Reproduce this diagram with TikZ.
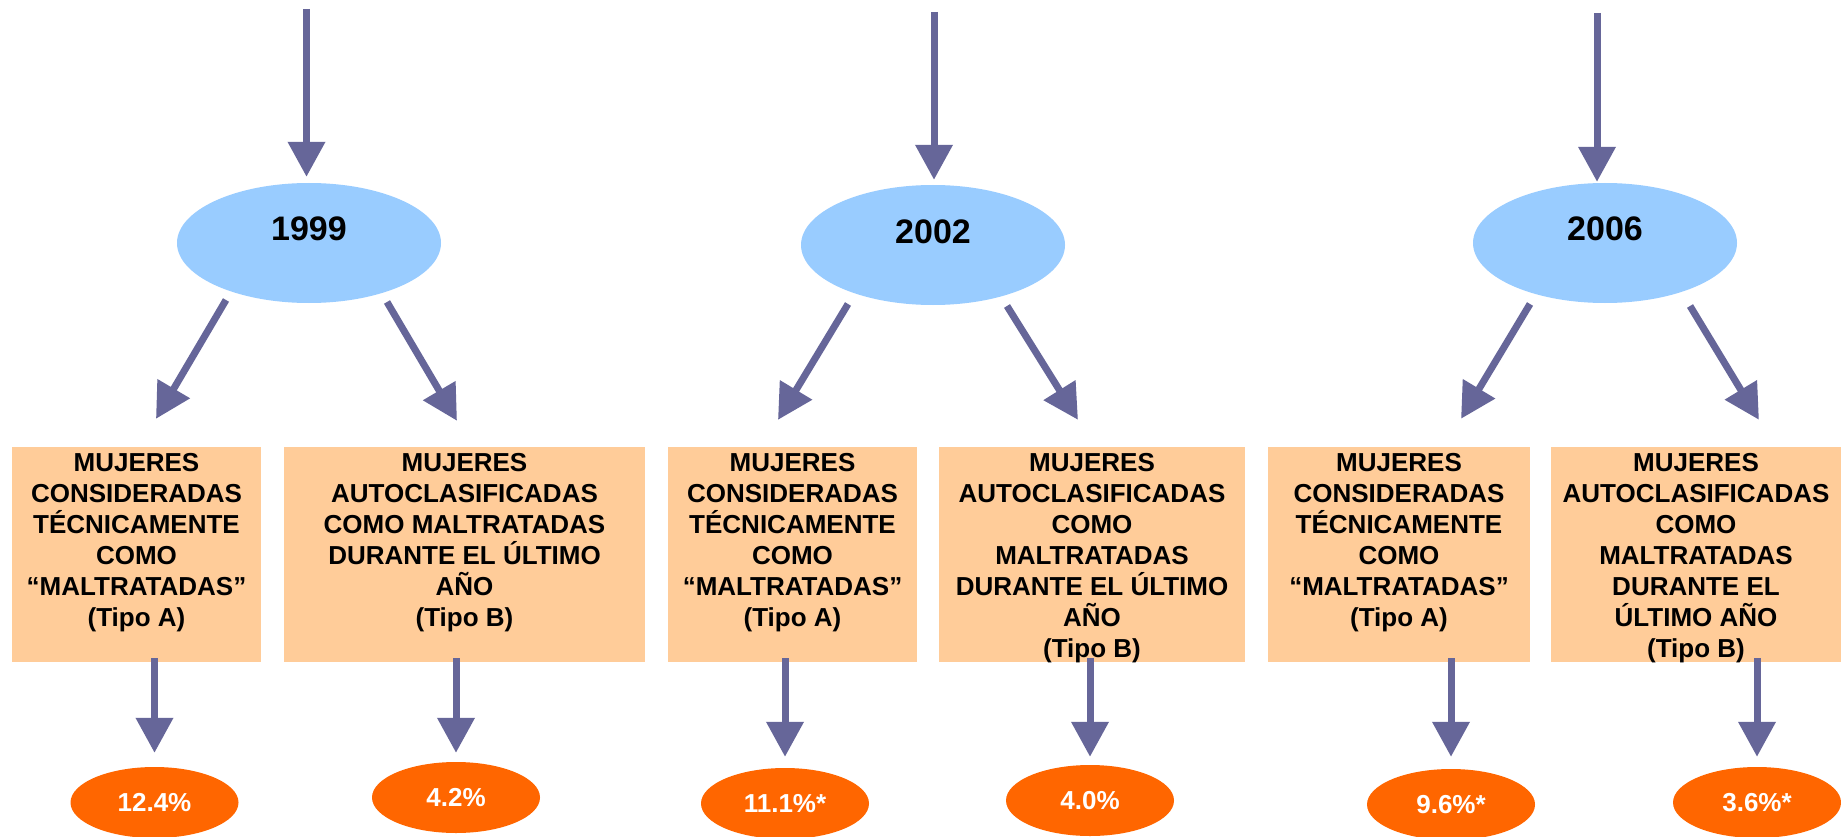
\documentclass[tikz,border=0pt]{standalone}
\usepackage{fontspec}
\setmainfont{Liberation Sans}
\usetikzlibrary{arrows.meta,shapes.geometric,calc}
\definecolor{arrowc}{HTML}{666699}
\definecolor{yearc}{HTML}{99CCFF}
\definecolor{boxc}{HTML}{FFCC99}
\definecolor{ovalc}{HTML}{FF6600}
\begin{document}
\begin{tikzpicture}[x=1pt,y=-1pt,
  arr/.style={draw=arrowc, line width=7pt, -{Triangle[length=35pt,width=36pt]}},
  yearnode/.style={ellipse, fill=yearc, minimum width=264pt, minimum height=120pt, inner sep=0pt},
  yeartext/.style={font=\bfseries\fontsize{34}{40}\selectfont, inner sep=0pt},
  boxnode/.style={fill=boxc, inner sep=0pt, minimum height=215pt},
  boxtext/.style={font=\bfseries\fontsize{26}{31}\selectfont, align=center, inner sep=0pt, anchor=north},
  ovalnode/.style={ellipse, fill=ovalc, minimum width=168pt, minimum height=71pt, inner sep=0pt, text=white, font=\bfseries\fontsize{26}{31}\selectfont}
]
\path[use as bounding box, fill=white] (0,0) rectangle (1841,837);

% year ellipses
\node[yearnode] (e1) at (309,243) {};
\node[yearnode] (e2) at (933,245) {};
\node[yearnode] (e3) at (1605,243) {};
\node[yeartext] (y1) at ([yshift=14pt]e1.center) {1999};
\node[yeartext] (y2) at ([yshift=13pt]e2.center) {2002};
\node[yeartext] (y3) at ([yshift=14pt]e3.center) {2006};

% boxes
\node[boxnode, minimum width=249pt] (bA) at (136.5,554.5) {};
\node[boxnode, minimum width=361pt] (bB) at (464.5,554.5) {};
\node[boxnode, minimum width=249pt] (bC) at (792.5,554.5) {};
\node[boxnode, minimum width=306pt] (bD) at (1092,554.5) {};
\node[boxnode, minimum width=262pt] (bE) at (1399,554.5) {};
\node[boxnode, minimum width=290pt] (bF) at (1696,554.5) {};

\node[boxtext] (tA) at ([yshift=-6pt]bA.north) {MUJERES\\CONSIDERADAS\\TÉCNICAMENTE\\COMO\\“MALTRATADAS”\\(Tipo A)};
\node[boxtext] (tB) at ([yshift=-6pt]bB.north) {MUJERES\\AUTOCLASIFICADAS\\COMO MALTRATADAS\\DURANTE EL ÚLTIMO\\AÑO\\(Tipo B)};
\node[boxtext] (tC) at ([yshift=-6pt]bC.north) {MUJERES\\CONSIDERADAS\\TÉCNICAMENTE\\COMO\\“MALTRATADAS”\\(Tipo A)};
\node[boxtext] (tD) at ([yshift=-6pt]bD.north) {MUJERES\\AUTOCLASIFICADAS\\COMO\\MALTRATADAS\\DURANTE EL ÚLTIMO\\AÑO\\(Tipo B)};
\node[boxtext] (tE) at ([yshift=-6pt]bE.north) {MUJERES\\CONSIDERADAS\\TÉCNICAMENTE\\COMO\\“MALTRATADAS”\\(Tipo A)};
\node[boxtext] (tF) at ([yshift=-6pt]bF.north) {MUJERES\\AUTOCLASIFICADAS\\COMO\\MALTRATADAS\\DURANTE EL\\ÚLTIMO AÑO\\(Tipo B)};

% result ovals
\node[ovalnode] (oA) at (154.5,802.5) {12.4\%};
\node[ovalnode] (oB) at (456,797.5) {4.2\%};
\node[ovalnode] (oC) at (785,803.5) {11.1\%*};
\node[ovalnode] (oD) at (1090,800.5) {4.0\%};
\node[ovalnode] (oE) at (1451,804.5) {9.6\%*};
\node[ovalnode] (oF) at (1757,802.5) {3.6\%*};

% top arrows
\coordinate (s1) at (306.5,9);
\coordinate (s2) at (934,12);
\coordinate (s3) at (1597,13);
\draw[arr, shorten >=6pt] (s1) -- (s1 |- e1.north);
\draw[arr, shorten >=5pt] (s2) -- (s2 |- e2.north);
\draw[arr, shorten >=1pt] (s3) -- (s3 |- e3.north);

% diagonal arrows
\draw[arr, shorten >=32.5pt] ([shift={(-83,57)}]e1.center) -- ([xshift=3pt]bA.north);
\draw[arr, shorten >=30.2pt] ([shift={(78,59)}]e1.center) -- ([xshift=7.8pt]bB.north);
\draw[arr, shorten >=31.5pt] ([shift={(-85,59)}]e2.center) -- ([xshift=-30.8pt]bC.north);
\draw[arr, shorten >=31.8pt] ([shift={(74,61)}]e2.center) -- ([xshift=2.8pt]bD.north);
\draw[arr, shorten >=32.7pt] ([shift={(-75,61)}]e3.center) -- ([xshift=45.2pt]bE.north);
\draw[arr, shorten >=31.6pt] ([shift={(85,63)}]e3.center) -- ([xshift=79.3pt]bF.north);

% down arrows
\draw[arr, shorten <=-4pt, shorten >=14pt] (oA |- bA.south) -- (oA.north);
\draw[arr, shorten <=-4pt, shorten >=9pt] (oB |- bB.south) -- (oB.north);
\draw[arr, shorten <=-4pt, shorten >=11pt] (oC |- bC.south) -- (oC.north);
\draw[arr, shorten <=-4pt, shorten >=8pt] (oD |- bD.south) -- (oD.north);
\draw[arr, shorten <=-4pt, shorten >=12pt] (oE |- bE.south) -- (oE.north);
\draw[arr, shorten <=-4pt, shorten >=10pt] (oF |- bF.south) -- (oF.north);
\end{tikzpicture}
\end{document}
